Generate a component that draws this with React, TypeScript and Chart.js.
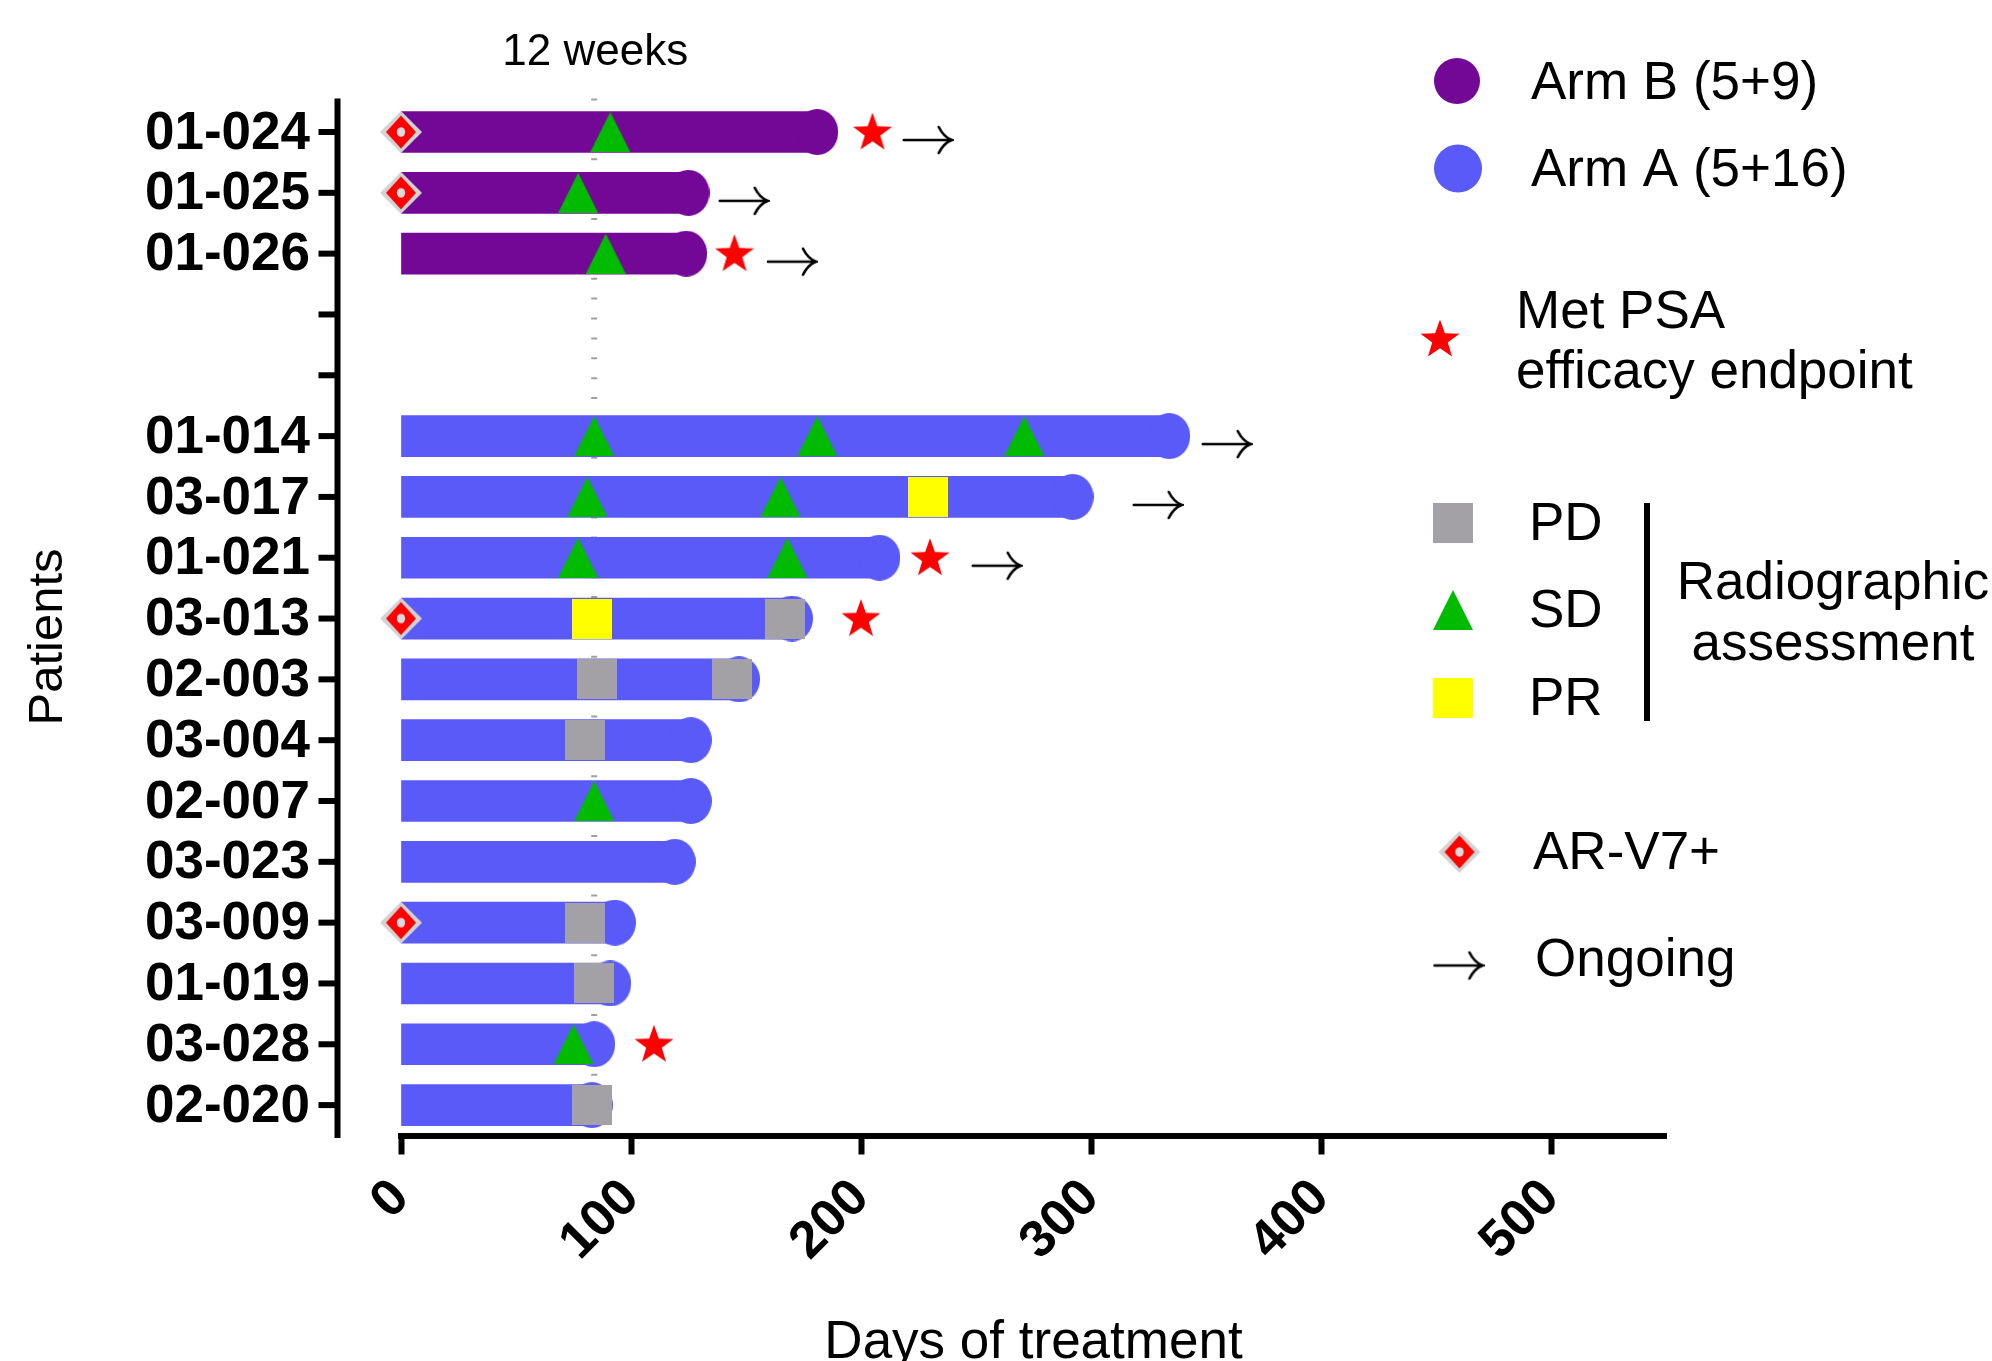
import React, { useEffect, useRef } from 'react';
import { Chart, registerables } from 'chart.js';

Chart.register(...registerables);

// ---------- data ----------
const PATIENTS = ['01-024', '01-025', '01-026', '', ' ', '01-014', '03-017', '01-021', '03-013', '02-003', '03-004', '02-007', '03-023', '03-009', '01-019', '03-028', '02-020'];
const ARM = ['B', 'B', 'B', null, null, 'A', 'A', 'A', 'A', 'A', 'A', 'A', 'A', 'A', 'A', 'A', 'A'];
const DAYS = [181, 125, 124, null, null, 334, 292, 208, 170, 147, 126, 126, 119, 93, 91, 84, 83];

const SD_POINTS: [string, number][] = [
  ['01-024', 91], ['01-025', 77], ['01-026', 89],
  ['01-014', 84], ['01-014', 181], ['01-014', 271],
  ['03-017', 81], ['03-017', 165],
  ['01-021', 77], ['01-021', 168],
  ['02-007', 84], ['03-028', 75],
];
const PD_POINTS: [string, number][] = [
  ['03-013', 167], ['02-003', 85], ['02-003', 144], ['03-004', 80],
  ['03-009', 80], ['01-019', 84], ['02-020', 83],
];
const PR_POINTS: [string, number][] = [['03-017', 229], ['03-013', 83]];
const PSA_POINTS: [string, number][] = [['01-024', 205], ['01-026', 145], ['01-021', 230], ['03-013', 200], ['03-028', 110]];
const ONGOING_POINTS: [string, number][] = [['01-024', 229], ['01-025', 149], ['01-026', 170], ['01-014', 359], ['03-017', 329], ['01-021', 259]];
const ARV7_PATIENTS = ['01-024', '01-025', '03-013', '03-009'];

const X_TICKS = [0, 100, 200, 300, 400, 500];
const X_MIN = 0;
const X_MAX = 550;
const WEEK12_DAY = 84;

// ---------- style ----------
const PURPLE = '#730897';
const BLUE = '#5a5af8';
const GREEN = '#00bb00';
const GRAY = '#a3a1a6';
const YELLOW = '#ffff00';
const RED = '#ff0000';
const FONT = '"Liberation Sans", Arial, Helvetica, sans-serif';

function mk(w: number, h: number, draw: (g: CanvasRenderingContext2D) => void) {
  const c = document.createElement('canvas');
  c.width = w;
  c.height = h;
  const g = c.getContext('2d')!;
  draw(g);
  return c;
}

function makeImages() {
  const tri = mk(40, 40, (g) => {
    g.fillStyle = GREEN;
    g.beginPath();
    g.moveTo(20, 0);
    g.lineTo(40, 40);
    g.lineTo(0, 40);
    g.closePath();
    g.fill();
  });
  const sq = (col: string) => mk(40, 40, (g) => { g.fillStyle = col; g.fillRect(0, 0, 40, 40); });
  const cap = (col: string) => mk(42, 46, (g) => {
    g.fillStyle = col;
    g.beginPath();
    g.ellipse(21, 23, 21, 23, 0, 0, Math.PI * 2);
    g.fill();
  });
  const star = mk(42, 42, (g) => {
    g.fillStyle = RED;
    g.beginPath();
    const cx = 21, cy = 22, ro = 20.5, ri = 8.2;
    for (let i = 0; i < 10; i++) {
      const r = i % 2 === 0 ? ro : ri;
      const a = -Math.PI / 2 + (i * Math.PI) / 5;
      const px = cx + r * Math.cos(a);
      const py = cy + r * Math.sin(a);
      if (i === 0) g.moveTo(px, py); else g.lineTo(px, py);
    }
    g.closePath();
    g.fill();
  });
  const diamond = mk(44, 44, (g) => {
    g.fillStyle = '#d3d3d3';
    g.beginPath();
    g.moveTo(22, 1); g.lineTo(43, 22); g.lineTo(22, 43); g.lineTo(1, 22); g.closePath();
    g.fill();
    g.fillStyle = RED;
    g.beginPath();
    g.moveTo(22, 5.5); g.lineTo(37, 22); g.lineTo(22, 38.5); g.lineTo(7, 22); g.closePath();
    g.fill();
    g.fillStyle = '#dadada';
    g.beginPath();
    g.ellipse(22, 22, 4.2, 4.8, 0, 0, Math.PI * 2);
    g.fill();
  });
  const arrow = mk(52, 60, (g) => {
    const y = 38;
    g.strokeStyle = '#000';
    g.lineWidth = 2.6;
    g.lineCap = 'round';
    g.beginPath();
    g.moveTo(2, y);
    g.lineTo(49, y);
    g.stroke();
    g.beginPath();
    g.moveTo(37, y - 13);
    g.quadraticCurveTo(42, y - 3, 50, y);
    g.quadraticCurveTo(42, y + 3, 37, y + 13);
    g.stroke();
  });
  return { tri, pd: sq(GRAY), pr: sq(YELLOW), capB: cap(PURPLE), capA: cap(BLUE), star, diamond, arrow };
}

const toXY = (pts: [string, number][]) => pts.map(([p, d]) => ({ x: d, y: p }));

export default function App() {
  const ref = useRef<HTMLCanvasElement | null>(null);

  useEffect(() => {
    const canvas = ref.current;
    if (!canvas) return;
    const img = makeImages();

    const capsB = PATIENTS.map((p, i) => (ARM[i] === 'B' ? { x: DAYS[i] as number, y: p } : null)).filter(Boolean);
    const capsA = PATIENTS.map((p, i) => (ARM[i] === 'A' ? { x: DAYS[i] as number, y: p } : null)).filter(Boolean);

    const markerBase = {
      type: 'line' as const,
      showLine: false,
      pointRadius: 3,
      pointHoverRadius: 3,
      pointBorderWidth: 0,
      clip: false as any,
    };

    const overlay = {
      id: 'overlay',
      beforeDatasetsDraw(chart: any) {
        const { ctx, chartArea, scales } = chart;
        const px = scales.x.getPixelForValue(WEEK12_DAY);
        ctx.save();
        ctx.strokeStyle = '#a0a0a0';
        ctx.lineWidth = 6;
        ctx.setLineDash([2, 17.9]);
        ctx.beginPath();
        ctx.moveTo(px, chartArea.top - 3);
        ctx.lineTo(px, chartArea.bottom - 4);
        ctx.stroke();
        ctx.restore();
      },
      afterDraw(chart: any) {
        const { ctx, chartArea, scales } = chart;
        const y = scales.y;
        ctx.save();
        // y axis line (offset from the plot area)
        const axX = chartArea.left - 63.5;
        ctx.strokeStyle = '#000';
        ctx.lineWidth = 6;
        ctx.beginPath();
        ctx.moveTo(axX, chartArea.top - 3);
        ctx.lineTo(axX, chartArea.bottom + 2.5);
        ctx.stroke();
        // y tick marks
        for (let i = 0; i < PATIENTS.length; i++) {
          const py = y.getPixelForValue(i);
          ctx.beginPath();
          ctx.moveTo(axX - 19, py);
          ctx.lineTo(axX, py);
          ctx.stroke();
        }
        // texts
        ctx.fillStyle = '#000';
        ctx.textBaseline = 'alphabetic';
        ctx.font = `44px ${FONT}`;
        ctx.textAlign = 'center';
        ctx.fillText('12 weeks', scales.x.getPixelForValue(WEEK12_DAY) + 1, 65);

        ctx.font = `53px ${FONT}`;
        ctx.fillText('Days of treatment', (chartArea.left + chartArea.right) / 2, 1358);

        ctx.save();
        ctx.translate(48, 637);
        ctx.rotate(-Math.PI / 2);
        ctx.font = `49px ${FONT}`;
        ctx.textBaseline = 'middle';
        ctx.fillText('Patients', 0, 0);
        ctx.restore();

        // legend
        const put = (c: HTMLCanvasElement, cx: number, cy: number) => ctx.drawImage(c, cx - c.width / 2, cy - c.height / 2);
        const circ = (col: string, cx: number, cy: number, r: number) => {
          ctx.fillStyle = col;
          ctx.beginPath();
          ctx.arc(cx, cy, r, 0, Math.PI * 2);
          ctx.fill();
        };
        circ(PURPLE, 1457, 81, 23);
        circ(BLUE, 1458, 168.5, 24);
        put(img.star, 1440, 339);
        put(img.pd, 1453, 523);
        put(img.tri, 1453, 610);
        put(img.pr, 1453, 697.5);
        put(img.diamond, 1459.5, 852);
        put(img.arrow, 1458.5, 957.5);

        ctx.fillStyle = '#000';
        ctx.textAlign = 'left';
        ctx.textBaseline = 'alphabetic';
        ctx.font = `53px ${FONT}`;
        ctx.fillText('Arm B (5+9)', 1531, 99);
        ctx.fillText('Arm A (5+16)', 1531, 186);
        ctx.fillText('Met PSA', 1516, 328);
        ctx.fillText('efficacy endpoint', 1516, 388);
        ctx.fillText('PD', 1529, 540);
        ctx.fillText('SD', 1529, 627);
        ctx.fillText('PR', 1529, 715);
        ctx.fillText('AR-V7+', 1533, 869);
        ctx.fillText('Ongoing', 1535, 976);
        ctx.textAlign = 'center';
        ctx.fillText('Radiographic', 1833, 599);
        ctx.fillText('assessment', 1833, 660);

        ctx.strokeStyle = '#000';
        ctx.lineWidth = 6;
        ctx.beginPath();
        ctx.moveTo(1647, 503);
        ctx.lineTo(1647, 721);
        ctx.stroke();
        ctx.restore();
      },
    };

    const chart = new Chart(canvas, {
      type: 'bar',
      data: {
        labels: PATIENTS,
        datasets: [
          { ...markerBase, label: 'Met PSA efficacy endpoint', data: toXY(PSA_POINTS), pointStyle: img.star, order: 0 } as any,
          { ...markerBase, label: 'Ongoing', data: toXY(ONGOING_POINTS), pointStyle: img.arrow, order: 0 } as any,
          { ...markerBase, label: 'AR-V7+', data: ARV7_PATIENTS.map((p) => ({ x: 0, y: p })), pointStyle: img.diamond, order: 1 } as any,
          { ...markerBase, label: 'PR', data: toXY(PR_POINTS), pointStyle: img.pr, order: 2 } as any,
          { ...markerBase, label: 'PD', data: toXY(PD_POINTS), pointStyle: img.pd, order: 2 } as any,
          { ...markerBase, label: 'SD', data: toXY(SD_POINTS), pointStyle: img.tri, order: 2 } as any,
          { ...markerBase, label: 'Arm B end', data: capsB, pointStyle: img.capB, order: 4 } as any,
          { ...markerBase, label: 'Arm A end', data: capsA, pointStyle: img.capA, order: 4 } as any,
          {
            type: 'bar',
            label: 'Days of treatment',
            data: DAYS as any,
            backgroundColor: ARM.map((a) => (a === 'B' ? PURPLE : BLUE)),
            borderWidth: 0,
            barThickness: 41,
            order: 5,
          } as any,
        ],
      },
      options: {
        indexAxis: 'y',
        responsive: false,
        maintainAspectRatio: false,
        animation: false,
        devicePixelRatio: 1,
        events: [],
        layout: { padding: { top: 101.6, right: 326, bottom: 0, left: 0 } },
        plugins: { legend: { display: false }, tooltip: { enabled: false }, title: { display: false } },
        scales: {
          x: {
            type: 'linear',
            min: X_MIN,
            max: X_MAX,
            afterBuildTicks: (s: any) => { s.ticks = X_TICKS.map((v) => ({ value: v })); },
            afterFit: (s: any) => { s.height = 225.5; s.paddingLeft = 0; s.paddingRight = 0; },
            border: { display: true, color: '#000', width: 6 },
            grid: { display: true, drawOnChartArea: false, drawTicks: true, tickLength: 19, tickWidth: 6, tickColor: '#000' },
            ticks: {
              autoSkip: false,
              minRotation: 45,
              maxRotation: 45,
              padding: 13,
              color: '#000',
              font: { family: FONT, size: 52, weight: 'bold' },
            },
            title: { display: false },
          },
          y: {
            type: 'category',
            offset: true,
            afterFit: (s: any) => { s.width = 401; s.paddingTop = 0; s.paddingBottom = 0; },
            border: { display: false },
            grid: { display: false, drawTicks: false },
            ticks: {
              autoSkip: false,
              padding: 91,
              labelOffset: 2,
              color: '#000',
              font: { family: FONT, size: 53, weight: 'bold' },
            },
            title: { display: false },
          },
        },
      } as any,
      plugins: [overlay],
    });

    return () => chart.destroy();
  }, []);

  return (
    <div style={{ position: 'fixed', left: 0, top: 0, width: 1992, height: 1361, background: '#fff' }}>
      <canvas ref={ref} width={1992} height={1361} style={{ display: 'block' }} />
    </div>
  );
}
